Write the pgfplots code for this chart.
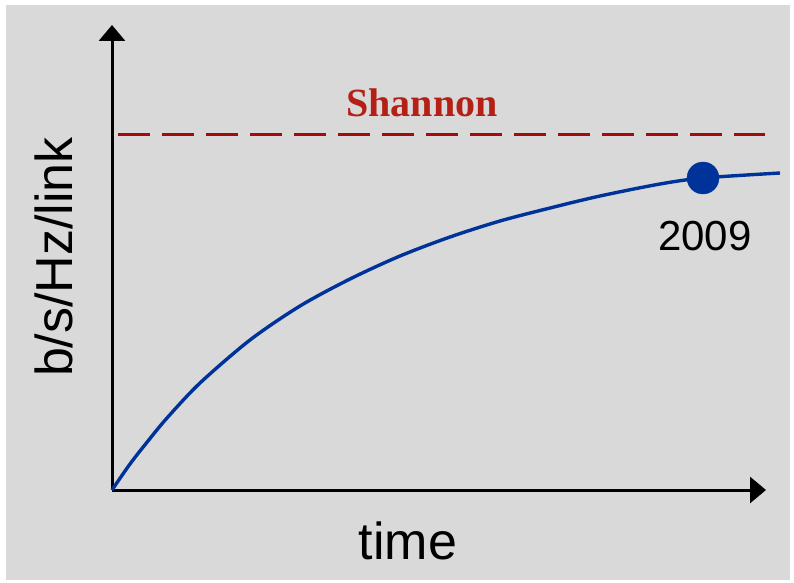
\documentclass[border=0pt]{standalone}
\usepackage{fontspec}
\setmainfont{Liberation Sans}
\newfontfamily\shannonfont{Liberation Serif}
\usepackage{pgfplots}
\pgfplotsset{compat=1.18}
\usetikzlibrary{arrows.meta}

\definecolor{bggray}{RGB}{217,217,217}
\definecolor{curveblue}{RGB}{0,51,153}
\definecolor{dashred}{RGB}{165,10,10}
\definecolor{labelred}{RGB}{180,32,22}

\begin{document}
\begin{tikzpicture}
% page and grey panel
\fill[white] (0pt,0pt) rectangle (794pt,582pt);
\fill[bggray] (6pt,2pt) rectangle (790pt,577pt);

\begin{axis}[
    at={(112pt,92pt)},
    anchor=south west,
    scale only axis,
    width=654pt,
    height=465pt,
    xmin=0, xmax=654,
    ymin=0, ymax=465,
    axis lines=left,
    axis line style={line width=3pt, -{Triangle[width=26pt,length=16pt]}},
    xtick=\empty, ytick=\empty,
    clip=false,
    xlabel={time},
    xlabel style={font=\fontsize{52}{60}\selectfont, at={(axis cs:296,-69)}, anchor=base},
    ylabel={b/s/Hz/link},
    ylabel style={font=\fontsize{52}{60}\selectfont, at={(axis cs:-40,233)}, anchor=base, rotate=0},
]
% Shannon bound
\addplot[dashred, line width=3pt, dash pattern=on 32pt off 12pt]
    coordinates {(6,355) (653,355)};

% achieved spectral efficiency
\addplot[curveblue, line width=3.4pt, smooth]
    coordinates {
    (0,0) (18,26) (36,49) (55,72) (88,107) (138,150) (188,184)
    (238,211) (288,234) (338,253) (388,269) (438,282) (488,294)
    (548,306) (591,312) (668,317)
    };

% 2009 marker
\addplot[only marks, mark=*, mark size=16pt, curveblue]
    coordinates {(591,312)};

\node[anchor=base, font=\fontsize{42}{50}\selectfont] at (axis cs:593,240) {2009};
\node[anchor=base, text=labelred, font=\shannonfont\bfseries\fontsize{40}{48}\selectfont] at (axis cs:310,373) {Shannon};
\end{axis}
\end{tikzpicture}
\end{document}
